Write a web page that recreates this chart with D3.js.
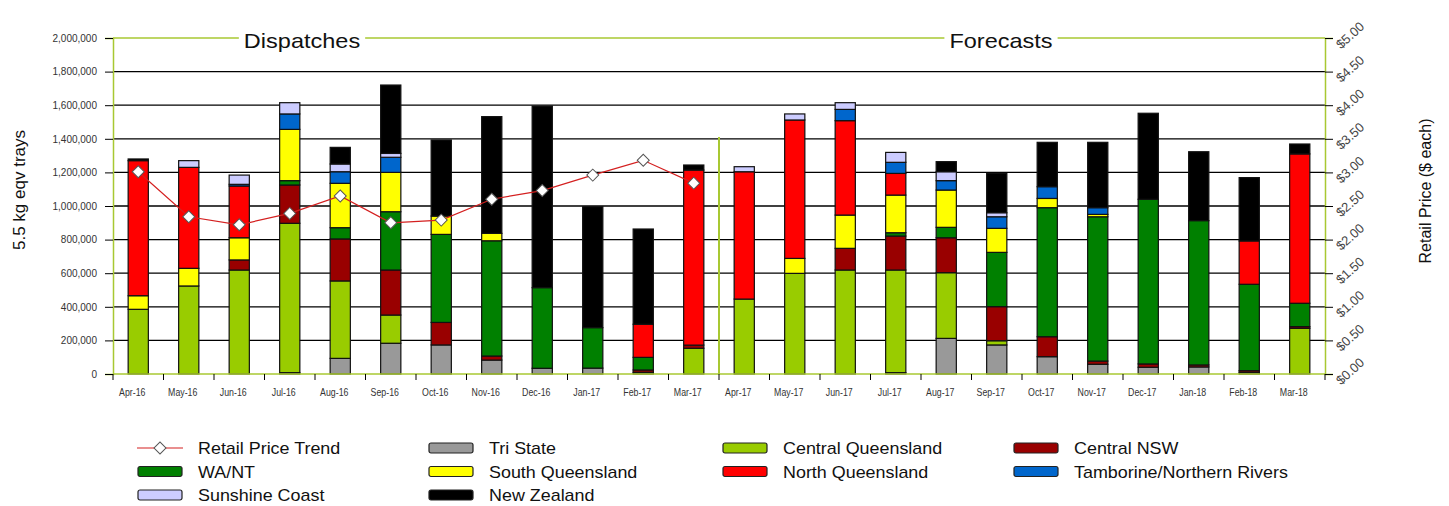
<!DOCTYPE html>
<html>
<head>
<meta charset="utf-8">
<script src="https://cdn.jsdelivr.net/npm/d3@7"></script>
<style>
  body { margin: 0; background: #fff; }
  svg { display: block; font-family: "Liberation Sans", Arial, sans-serif; }
  .axis text { fill: #333; font-size: 10px; }
  .legend text { font-size: 16px; fill: #111; }
</style>
</head>
<body>
<div class="chart"></div>
<script>
// months on the x axis
const months = ["Apr-16","May-16","Jun-16","Jul-16","Aug-16","Sep-16","Oct-16","Nov-16","Dec-16","Jan-17","Feb-17","Mar-17",
                "Apr-17","May-17","Jun-17","Jul-17","Aug-17","Sep-17","Oct-17","Nov-17","Dec-17","Jan-18","Feb-18","Mar-18"];

// stack order, bottom to top
const seriesNames = ["Tri State","Central Queensland","Central NSW","WA/NT","South Queensland",
                     "North Queensland","Tamborine/Northern Rivers","Sunshine Coast","New Zealand"];
const seriesColors = ["#999999","#99cc00","#990000","#008000","#ffff00","#ff0000","#0066cc","#ccccff","#000000"];

// values in trays
const triState          = [0,0,0,8000,93000,183000,173000,83000,34000,35000,10000,0, 0,0,0,8000,212000,173000,103000,58000,40000,42000,10000,0];
const centralQueensland = [385000,524000,619000,889000,461000,168000,0,0,0,0,0,153000, 446000,599000,619000,611000,391000,25000,0,0,0,0,0,272000];
const centralNSW        = [0,0,60000,228000,250000,268000,134000,24000,0,0,14000,19000, 0,0,129000,202000,208000,203000,119000,19000,20000,12000,10000,10000];
const waNT              = [0,0,0,26000,67000,347000,524000,686000,480000,241000,75000,0, 0,0,0,20000,62000,323000,768000,859000,980000,859000,514000,139000];
const southQueensland   = [81000,105000,132000,305000,264000,234000,109000,44000,0,0,0,0, 0,89000,198000,224000,222000,143000,55000,14000,0,0,0,0];
const northQueensland   = [804000,601000,308000,0,0,0,0,0,0,0,197000,1042000, 758000,824000,562000,129000,0,0,0,0,0,0,258000,889000];
const tamborine         = [0,0,10000,92000,69000,90000,0,0,0,0,0,0, 0,0,67000,66000,56000,69000,70000,40000,0,0,0,0];
const sunshineCoast     = [0,40000,55000,67000,46000,23000,0,0,0,0,0,0, 30000,36000,40000,59000,53000,24000,0,0,0,0,0,0];
const newZealand        = [10000,0,0,0,99000,407000,453000,695000,1081000,720000,567000,30000, 0,0,0,0,60000,234000,264000,389000,512000,410000,377000,59000];

// retail price, dispatch months only
const retailPrice = [3.01,2.34,2.22,2.39,2.65,2.25,2.29,2.60,2.73,2.96,3.18,2.84];

const leftTicks = [0,200000,400000,600000,800000,1000000,1200000,1400000,1600000,1800000,2000000];
const rightTicks = [0,0.5,1,1.5,2,2.5,3,3.5,4,4.5,5];

const seriesValues = [triState, centralQueensland, centralNSW, waNT, southQueensland,
                      northQueensland, tamborine, sunshineCoast, newZealand];

const width = 1449, height = 506;
const plot = { left: 113, right: 1325, top: 38, bottom: 374 };
const axisGreen = "#a8c832";

const svg = d3.select(".chart").append("svg")
    .attr("width", width)
    .attr("height", height);

const x = d3.scaleBand()
    .domain(months)
    .range([plot.left, plot.right])
    .paddingInner(0.6)
    .paddingOuter(0.3);

const y = d3.scaleLinear().domain([0, 2000000]).range([plot.bottom, plot.top]);
const yR = d3.scaleLinear().domain([0, 5]).range([plot.bottom, plot.top]);

// gridlines
svg.append("g")
    .selectAll("line")
    .data(leftTicks.filter(d => d > 0 && d < 2000000))
    .join("line")
    .attr("x1", plot.left).attr("x2", plot.right)
    .attr("y1", d => y(d)).attr("y2", d => y(d))
    .attr("stroke", "#000").attr("stroke-width", 1.3);

// stacked bars
const table = months.map((m, i) => {
    const row = { month: m };
    seriesNames.forEach((s, j) => { row[s] = seriesValues[j][i]; });
    return row;
});
const stacked = d3.stack().keys(seriesNames)(table);

svg.append("g")
    .selectAll("g")
    .data(stacked)
    .join("g")
    .attr("fill", (d, i) => seriesColors[i])
    .selectAll("rect")
    .data(d => d.filter(p => p[1] - p[0] > 0))
    .join("rect")
    .attr("x", d => x(d.data.month))
    .attr("width", x.bandwidth())
    .attr("y", d => y(d[1]))
    .attr("height", d => y(d[0]) - y(d[1]))
    .attr("stroke", "#111")
    .attr("stroke-width", 1.2);

// frame lines
svg.append("line")
    .attr("x1", plot.left).attr("x2", plot.right)
    .attr("y1", plot.top).attr("y2", plot.top)
    .attr("stroke", axisGreen).attr("stroke-width", 1.5);
const divX = x(months[12]) - x.step() * x.paddingInner() / 2;
svg.append("line")
    .attr("x1", divX).attr("x2", divX)
    .attr("y1", 137).attr("y2", plot.bottom)
    .attr("stroke", axisGreen).attr("stroke-width", 2);

// section labels over the top line
[["Dispatches", 302], ["Forecasts", 1001]].forEach(([label, cx]) => {
    const t = svg.append("text")
        .attr("transform", `translate(${cx},48) scale(1.12,1)`)
        .attr("text-anchor", "middle")
        .attr("font-size", 21)
        .attr("fill", "#111")
        .text(label);
    const w = t.node().getBBox().width * 1.12;
    svg.insert("rect", "text")
        .attr("x", cx - w / 2 - 5).attr("y", plot.top - 2)
        .attr("width", w + 10).attr("height", 4)
        .attr("fill", "#fff");
});

// left axis
const leftAxis = svg.append("g")
    .attr("class", "axis")
    .attr("transform", `translate(${plot.left},0)`)
    .call(d3.axisLeft(y).tickValues(leftTicks).tickSize(8).tickPadding(8).tickFormat(d3.format(",")));
leftAxis.select(".domain").attr("stroke", axisGreen).attr("stroke-width", 1.5);
leftAxis.selectAll(".tick line").attr("stroke", "#000");

// right axis
const rightAxis = svg.append("g")
    .attr("class", "axis")
    .attr("transform", `translate(${plot.right},0)`)
    .call(d3.axisRight(yR).tickValues(rightTicks).tickSize(8).tickFormat(d => "$" + d.toFixed(2)));
rightAxis.select(".domain").attr("stroke", axisGreen).attr("stroke-width", 1.5);
rightAxis.selectAll(".tick line").attr("stroke", "#000");
rightAxis.selectAll(".tick text")
    .attr("x", 0).attr("dy", null)
    .style("font-size", "13px")
    .style("fill", "#444")
    .attr("text-anchor", "start")
    .attr("transform", "translate(16,11) rotate(-42)");

// bottom axis: labels at band centres, ticks at band edges
const bottom = svg.append("g").attr("class", "axis");
bottom.append("line")
    .attr("x1", plot.left).attr("x2", plot.right)
    .attr("y1", plot.bottom).attr("y2", plot.bottom)
    .attr("stroke", axisGreen).attr("stroke-width", 1.5);
bottom.selectAll(".edge")
    .data(d3.range(months.length + 1))
    .join("line")
    .attr("class", "edge")
    .attr("x1", i => plot.left + i * x.step()).attr("x2", i => plot.left + i * x.step())
    .attr("y1", plot.bottom).attr("y2", plot.bottom + 6)
    .attr("stroke", "#000");
bottom.selectAll("text")
    .data(months)
    .join("text")
    .attr("transform", d => `translate(${x(d) + x.bandwidth() / 2 - 6},396) scale(0.88,1)`)
    .attr("text-anchor", "middle")
    .style("font-size", "10px")
    .text(d => d);

// axis titles
svg.append("text")
    .attr("transform", "translate(25,190) rotate(-90)")
    .attr("text-anchor", "middle")
    .attr("font-size", 17)
    .attr("fill", "#111")
    .text("5.5 kg eqv trays");
svg.append("text")
    .attr("transform", "translate(1431,191) rotate(-90)")
    .attr("text-anchor", "middle")
    .attr("font-size", 16)
    .attr("fill", "#111")
    .text("Retail Price ($ each)");

// retail price line
const priceLine = d3.line()
    .x((d, i) => x(months[i]) + x.bandwidth() / 2)
    .y(d => yR(d));
svg.append("path")
    .datum(retailPrice)
    .attr("d", priceLine)
    .attr("fill", "none")
    .attr("stroke", "#d42020")
    .attr("stroke-width", 1.2);
const diamond = d3.symbol().type(d3.symbolSquare).size(72);
svg.append("g")
    .selectAll("path")
    .data(retailPrice)
    .join("path")
    .attr("d", diamond)
    .attr("transform", (d, i) => `translate(${x(months[i]) + x.bandwidth() / 2},${yR(d)}) rotate(45)`)
    .attr("fill", "#fff")
    .attr("stroke", "#555")
    .attr("stroke-width", 1);

// legend
const legendItems = ["Retail Price Trend", ...seriesNames];
const colX = [137, 428, 722, 1013];
const rowY = [448, 471.5, 495];
const legend = svg.append("g").attr("class", "legend");
legendItems.forEach((name, k) => {
    const g = legend.append("g")
        .attr("transform", `translate(${colX[k % 4]},${rowY[Math.floor(k / 4)]})`);
    if (k === 0) {
        g.append("line").attr("x1", 0).attr("x2", 46).attr("y1", 0).attr("y2", 0)
            .attr("stroke", "#d42020").attr("stroke-width", 1.2);
        g.append("path").attr("d", diamond).attr("transform", "translate(23,0) rotate(45)")
            .attr("fill", "#fff").attr("stroke", "#555");
    } else {
        g.append("rect").attr("x", 1).attr("y", -5).attr("width", 44).attr("height", 10)
            .attr("rx", 2)
            .attr("fill", seriesColors[k - 1]).attr("stroke", "#222").attr("stroke-width", 1.2);
    }
    g.append("text").attr("transform", "translate(61,6) scale(1.12,1)").text(name);
});
</script>
</body>
</html>
